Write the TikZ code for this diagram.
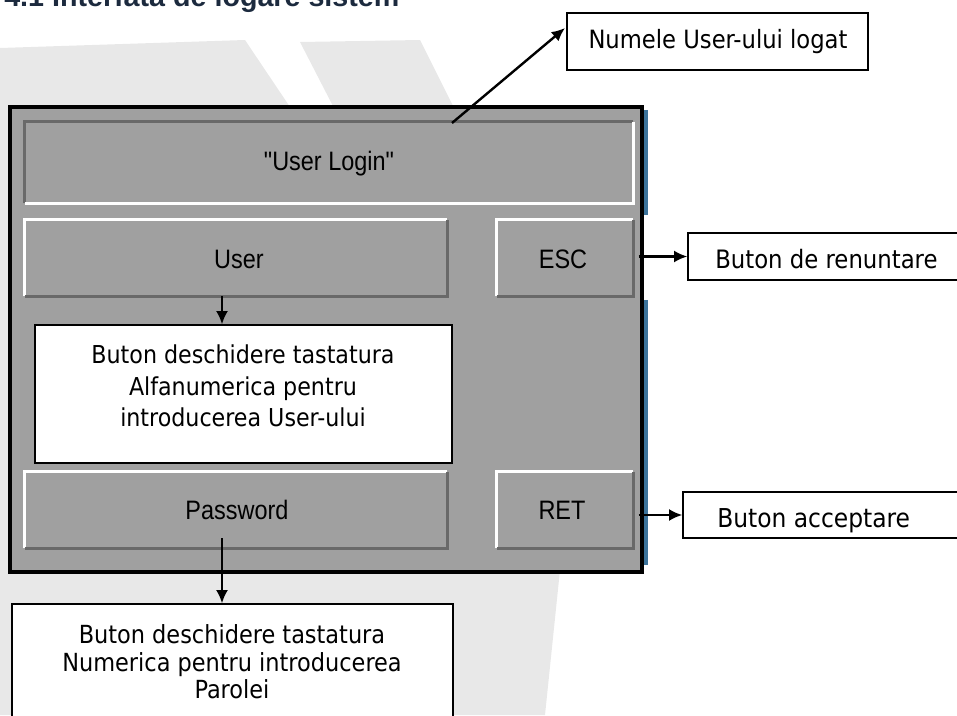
\documentclass[tikz,border=0pt]{standalone}
\usepackage{fontspec}
\setmainfont{Liberation Sans}
\newfontfamily\annfont{DejaVu Sans Condensed}
\newfontfamily\btnfont[FakeStretch=0.88]{Liberation Sans}
\usetikzlibrary{fit,arrows.meta,calc}
\definecolor{panelgray}{RGB}{160,160,160}
\definecolor{bevdark}{RGB}{105,105,105}
\definecolor{bggray}{RGB}{232,232,232}
\definecolor{titleblue}{RGB}{28,42,62}
\definecolor{stripblue}{RGB}{60,115,155}
\tikzset{
  btn/.style={fill=panelgray, inner sep=0pt},
  btntext/.style={inner sep=0pt, font=\btnfont\fontsize{20}{22}\selectfont},
  note/.style={draw=black, line width=0.9pt, fill=white, inner sep=0pt},
  notetext/.style={font=\annfont\fontsize{18.5}{23.5}\selectfont, align=center, inner sep=0pt},
  arr/.style={draw=black, line width=1.8pt, -{Latex[length=10pt,width=9pt]}},
}
\begin{document}
\begin{tikzpicture}[x=0.75pt,y=-0.75pt]
\useasboundingbox (0,0) rectangle (957,715);
% background texture
\fill[bggray] (0,48) -- (245,40) -- (292,110) -- (0,110) -- cycle;
\fill[bggray] (300,42) -- (420,40) -- (455,110) -- (335,110) -- cycle;
\fill[bggray] (0,100) rectangle (12,715);
\fill[bggray] (0,570) -- (560,570) -- (545,715) -- (0,715) -- cycle;
% title (cut at top)
\node[anchor=base west, font=\bfseries\fontsize{21.5}{24}\selectfont, text=titleblue, inner sep=0pt] (title) at (4,6) {4.1 Interfata de logare sistem};
% panel
\node[fit={(10,107) (642,572)}, draw=black, line width=2.6pt, fill=panelgray, inner sep=0pt] (panel) {};
\fill[stripblue] (644,110) rectangle (648,215);
\fill[stripblue] (644,300) rectangle (648,565);
% login bar
\node[btn, fit={(25,122) (633,203)}] (login) {};
\draw[bevdark, line width=2pt] (login.south west) -- (login.north west) -- (login.north east);
\draw[white, line width=2.5pt] (login.north east) -- (login.south east) -- (login.south west);
% buttons
\node[btn, fit={(25,220) (447,296)}] (user) {};
\node[btn, fit={(497,220) (633,296)}] (esc) {};
\node[btn, fit={(25,472) (447,548)}] (pw) {};
\node[btn, fit={(497,472) (633,548)}] (ret) {};
\foreach \n in {user,esc,pw,ret}{
  \draw[white, line width=2.5pt] (\n.south west) -- (\n.north west) -- (\n.north east);
  \draw[bevdark, line width=2pt] (\n.north east) -- (\n.south east) -- (\n.south west);
}
\node[btntext] (logint) at (329,164) {"User Login"};
\node[btntext] (usert) at (239,259) {User};
\node[btntext] (esct) at (563,259) {ESC};
\node[btntext] (pwt) at (237,510) {Password};
\node[btntext] (rett) at (562,510) {RET};
% note boxes
\node[note, fit={(35,325) (452,463)}] (box1) {};
\node[notetext] (box1t) at (243,386) {Buton deschidere tastatura\\Alfanumerica pentru\\introducerea User-ului};
\node[note, fit={(12,604) (453,735)}] (box2) {};
\node[notetext, font=\annfont\fontsize{18.7}{20.6}\selectfont] (box2t) at (232,662) {Buton deschidere tastatura\\Numerica pentru introducerea\\Parolei};
\node[note, fit={(567,13) (868,70)}] (numele) {};
\node[notetext, font=\annfont\fontsize{18.9}{20}\selectfont] (numelet) at (718,42) {Numele User-ului logat};
\node[note, fit={(688,233) (975,280)}] (renunt) {};
\node[notetext, font=\annfont\fontsize{19}{20}\selectfont, anchor=base west] (renuntt) at (715,268) {Buton de renuntare};
\node[note, fit={(683,492) (975,538)}] (accept) {};
\node[notetext, font=\annfont\fontsize{19.5}{20}\selectfont, anchor=base west] (acceptt) at (717,527) {Buton acceptare};
% connectors
\coordinate (ax1) at (222,0);
\coordinate (ax2) at (222,538);
\coordinate (ltop) at (452,123);
\coordinate (ntip) at (565,28);
\draw[arr] (user.south -| ax1) -- (box1.north -| ax1);
\draw[arr] (ax2) -- (box2.north -| ax2);
\draw[arr] (ltop) -- (ntip);
\draw[arr] ([xshift=4pt]esc.east |- renunt.west) -- (renunt.west);
\draw[arr] ([xshift=4pt]ret.east |- accept.west) -- (accept.west);
\end{tikzpicture}
\end{document}
